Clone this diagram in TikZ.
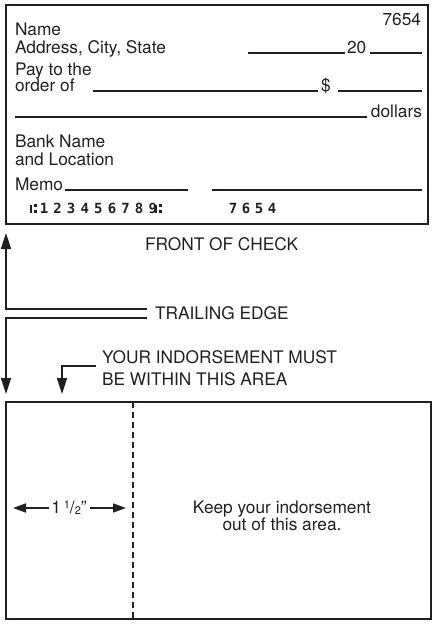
\documentclass[tikz,border=0pt]{standalone}
\usepackage{fontspec}
\setmainfont{TeX Gyre Heros}
\newfontfamily\micrfont{DejaVu Sans Mono}
\usetikzlibrary{arrows.meta}
\definecolor{ink}{HTML}{231F20}
\tikzset{
  txt/.style={inner sep=0pt, outer sep=0pt, font=\fontsize{17.3}{17}\selectfont, text=ink},
  micr/.style={inner sep=0pt, outer sep=0pt, font=\micrfont\bfseries\fontsize{14}{14}\selectfont, text=ink},
  frame/.style={draw=ink, line width=1.9pt},
  rule/.style={draw=ink, line width=1.35pt},
  lead/.style={draw=ink, line width=1.6pt},
  tipv/.style={-{Triangle[length=16pt,width=10pt]}},
  tiph/.style={-{Triangle[length=13pt,width=9pt]}},
}
\begin{document}
\begin{tikzpicture}[x=1pt,y=-1pt]
\useasboundingbox (0,0) rectangle (433,626);
% ---------- front of check
\draw[frame] (6,5) rectangle (428,224);
\node[txt, anchor=base east] (num) at (421,26) {7654};
\node[txt, anchor=base west] (name) at (15,36) {Name};
\node[txt, anchor=base west] (addr) at (15,53) {Address, City, State};
\node[txt, anchor=base west] (twenty) at (347,53) {20};
\coordinate (d1a) at (248,53); \coordinate (d1b) at (345,53);
\coordinate (d2a) at (370,53); \coordinate (d2b) at (422,53);
\draw[rule] (d1a) -- (d1b);
\draw[rule] (d2a) -- (d2b);
\node[txt, anchor=base west] (pay) at (15,75) {Pay to the};
\node[txt, anchor=base west] (order) at (15,91) {order of};
\coordinate (p1a) at (93,91); \coordinate (p1b) at (318,91);
\draw[rule] (p1a) -- (p1b);
\node[txt, anchor=base west] (dollar) at (321,91) {\$};
\coordinate (p2a) at (338,91); \coordinate (p2b) at (422,91);
\draw[rule] (p2a) -- (p2b);
\coordinate (da) at (15,117); \coordinate (db) at (367,117);
\draw[rule] (da) -- (db);
\node[txt, anchor=base east] (dollars) at (422,117) {dollars};
\node[txt, anchor=base west] (bank) at (15,147) {Bank Name};
\node[txt, anchor=base west] (loc) at (15,165) {and Location};
\node[txt, anchor=base west] (memo) at (15,190) {Memo};
\coordinate (m1a) at (65,190); \coordinate (m1b) at (188,190);
\draw[rule] (m1a) -- (m1b);
\coordinate (s1a) at (212,190); \coordinate (s1b) at (422,190);
\draw[rule] (s1a) -- (s1b);
% MICR line
\foreach \xx in {30,155}{
  \fill[ink] (\xx,205) rectangle ++(2.2,8);
  \fill[ink] (\xx+3.8,204) rectangle ++(3.2,3.2);
  \fill[ink] (\xx+3.8,209.8) rectangle ++(3.2,3.2);
}
\foreach \d [count=\i from 0] in {1,2,3,4,5,6,7,8,9}{
  \node[micr, anchor=base] (micr\i) at (44+\i*13.6,213.5) {\d};
}
\foreach \d [count=\i from 0] in {7,6,5,4}{
  \node[micr, anchor=base] (acct\i) at (233+\i*13,213.5) {\d};
}
% ---------- labels and leaders
\node[txt, anchor=base west] (front) at (145,250) {FRONT OF CHECK};
\coordinate (up) at (6,233);
\coordinate (upc) at (6,309);
\coordinate (upe) at (147,309);
\draw[lead, tipv] (upe) -- (upc) -- (up);
\coordinate (dn) at (6,394);
\coordinate (dnc) at (6,318);
\coordinate (dne) at (147,318);
\draw[lead, tipv] (dne) -- (dnc) -- (dn);
\node[txt, anchor=base west] (trail) at (155,319) {TRAILING EDGE};
\node[txt, anchor=base west] (must1) at (102,363) {YOUR INDORSEMENT MUST};
\node[txt, anchor=base west] (must2) at (102,385) {BE WITHIN THIS AREA};
\coordinate (ba) at (96,366); \coordinate (bc) at (62,366); \coordinate (bt) at (62,394);
\draw[lead, tipv] (ba) -- (bc) -- (bt);
% ---------- back of check
\draw[frame] (6,402) rectangle (431,619);
\coordinate (dash1) at (133,402); \coordinate (dash2) at (133,619);
\draw[draw=ink, line width=1.5pt, dash pattern=on 6pt off 4pt] (dash1) -- (dash2);
\node[txt, anchor=base] (meas) at (69,513) {1\,\raisebox{5pt}{\fontsize{11}{11}\selectfont 1}/\raisebox{-1pt}{\fontsize{11}{11}\selectfont 2}\symbol{"22}};
\coordinate (ml) at (13,508); \coordinate (mr) at (126,508);
\draw[lead, tiph] (meas.west |- ml) ++(-2,0) -- (ml);
\draw[lead, tiph] (meas.east |- mr) ++(3,0) -- (mr);
\node[txt, anchor=base] (keep1) at (282,513) {Keep your indorsement};
\node[txt, anchor=base] (keep2) at (282,530) {out of this area.};
\end{tikzpicture}
\end{document}
